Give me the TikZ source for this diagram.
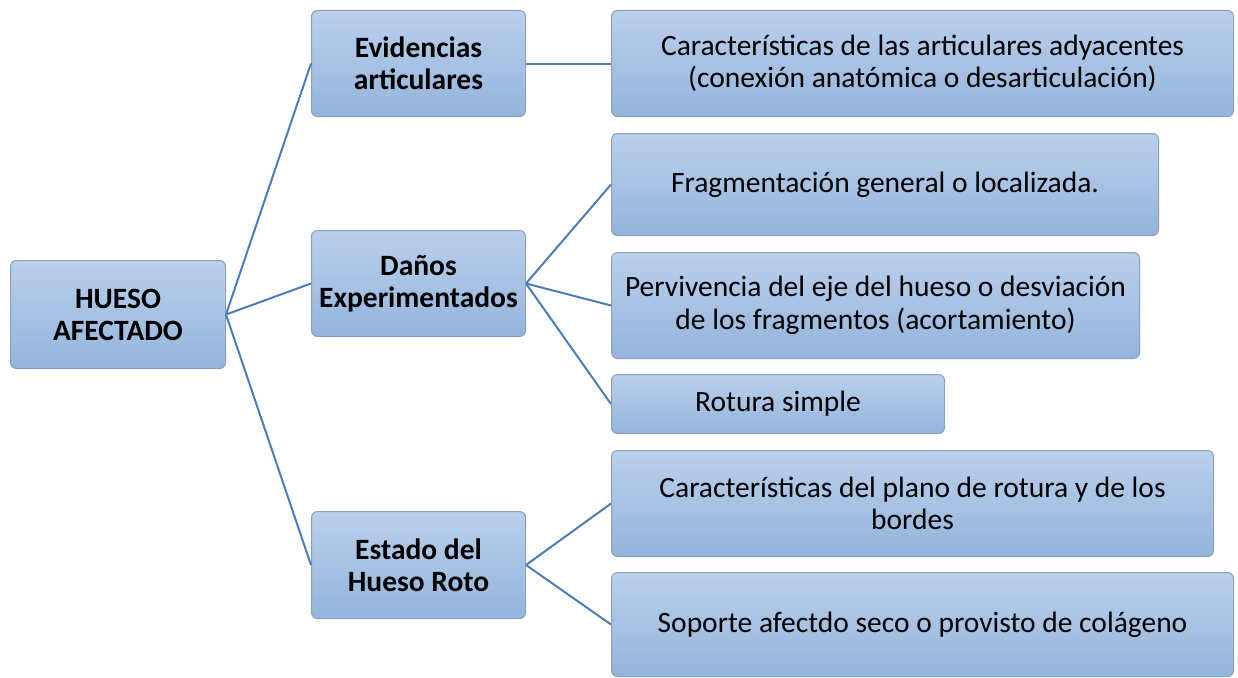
\documentclass[tikz,border=0pt]{standalone}
\usepackage{fontspec}
\setmainfont{Carlito}
\definecolor{boxtop}{RGB}{186,208,236}
\definecolor{boxbot}{RGB}{148,180,220}
\definecolor{boxline}{RGB}{140,160,188}
\definecolor{linkc}{RGB}{74,126,187}
\begin{document}
\begin{tikzpicture}[x=1pt,y=-1pt]
\useasboundingbox[fill=white] (0,0) rectangle (1238,677);
\tikzset{
  box/.style={draw=boxline, line width=1pt, rounded corners=6pt, top color=boxtop, bottom color=boxbot,
    anchor=north west, inner sep=0pt, align=center, font=\fontsize{29.5}{32.5}\selectfont},
  hbox/.style={box, font=\bfseries\fontsize{29.5}{32}\selectfont},
  link/.style={draw=linkc, line width=2pt}
}
\node[hbox, minimum width=215pt, minimum height=108pt] (h) at (10,260) {HUESO\\AFECTADO};
\node[hbox, minimum width=214pt, minimum height=106pt] (ev) at (311,10) {Evidencias\\articulares};
\node[hbox, minimum width=214pt, minimum height=106pt] (da) at (311,230) {Daños\\Experimentados};
\node[hbox, minimum width=214pt, minimum height=107pt] (es) at (311,511) {Estado del\\Hueso Roto};
\node[box, minimum width=622pt, minimum height=106pt] (c1) at (611,10) {Características de las articulares adyacentes\\(conexión anatómica o desarticulación)};
\node[box, minimum width=547pt, minimum height=102pt] (f1) at (611,133) {Fragmentación general o localizada.};
\node[box, minimum width=528pt, minimum height=106pt] (p1) at (611,252) {Pervivencia del eje del hueso o desviación\\de los fragmentos (acortamiento)};
\node[box, minimum width=333pt, minimum height=59pt] (r1) at (611,374) {Rotura simple};
\node[box, minimum width=602pt, minimum height=106pt] (c2) at (611,450) {Características del plano de rotura y de los\\bordes};
\node[box, minimum width=622pt, minimum height=104pt] (s1) at (611,572) {Soporte afectdo seco o provisto de colágeno};
\draw[link] (h.east) -- (ev.west);
\draw[link] (h.east) -- (da.west);
\draw[link] (h.east) -- (es.west);
\draw[link] (ev.east) -- (c1.west);
\draw[link] (da.east) -- (f1.west);
\draw[link] (da.east) -- (p1.west);
\draw[link] (da.east) -- (r1.west);
\draw[link] (es.east) -- (c2.west);
\draw[link] (es.east) -- (s1.west);
\end{tikzpicture}
\end{document}
